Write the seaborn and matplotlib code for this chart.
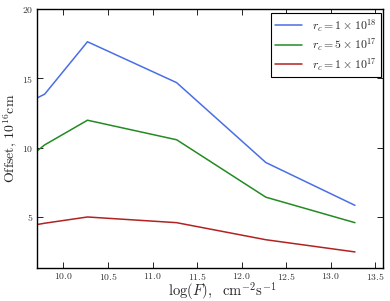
import numpy as np
import pandas as pd
import matplotlib
matplotlib.use('Agg')
import matplotlib.pyplot as plt
import seaborn as sns

# values
log_f = [9.70, 9.79, 10.27, 11.27, 12.27, 13.27]
offset_1e18 = [13.57, 13.86, 17.64, 14.69, 8.93, 5.84]
offset_5e17 = [9.74, 10.20, 11.98, 10.57, 6.43, 4.59]
offset_1e17 = [4.45, 4.55, 5.00, 4.59, 3.36, 2.48]
labels = [r'$r_c = 1\times10^{18}$', r'$r_c = 5\times10^{17}$', r'$r_c = 1\times10^{17}$']
colors = ['#4a6ee6', '#228b22', '#b22222']

df = pd.concat([
    pd.DataFrame({'logF': log_f, 'offset': vals, 'model': lab})
    for vals, lab in zip([offset_1e18, offset_5e17, offset_1e17], labels)
])

sns.set_style('ticks')
plt.rcParams.update({
    'font.family': 'serif',
    'font.serif': ['cmr10'],
    'mathtext.fontset': 'cm',
    'axes.formatter.use_mathtext': True,
    'xtick.direction': 'in',
    'ytick.direction': 'in',
    'xtick.top': True,
    'ytick.right': True,
    'axes.edgecolor': 'black',
    'axes.linewidth': 1.0,
})

fig = plt.figure(figsize=(3.9, 3.01), dpi=100)
ax = fig.add_axes([0.094, 0.111, 0.887, 0.859])
sns.lineplot(data=df, x='logF', y='offset', hue='model', palette=colors,
             linewidth=1.1, ax=ax, sort=False)

ax.set_xlim(9.7, 13.58)
ax.set_ylim(1.35, 20)
ax.set_xticks(np.arange(10.0, 13.51, 0.5))
ax.set_yticks([5, 10, 15, 20])
ax.tick_params(labelsize=7, length=4, width=0.6, pad=2.5, colors='black', labelcolor='#333333')
ax.set_xlabel(r'$\log(F),\ \ \mathrm{cm}^{-2}\mathrm{s}^{-1}$', fontsize=10.5)
ax.set_ylabel(r'Offset, $10^{16}$cm', fontsize=10)
ax.xaxis.set_label_coords(0.536, -0.049)
ax.yaxis.set_label_coords(-0.05, 0.5)

leg = ax.legend(title=None, loc='upper right', bbox_to_anchor=(0.994, 0.985),
                borderaxespad=0, fontsize=8.5, fancybox=False,
                framealpha=1, edgecolor='black', handlelength=2.3,
                handletextpad=0.8, labelspacing=0.2, borderpad=0.35)
leg.get_frame().set_linewidth(0.8)

fig.savefig('out.png', dpi=100)
